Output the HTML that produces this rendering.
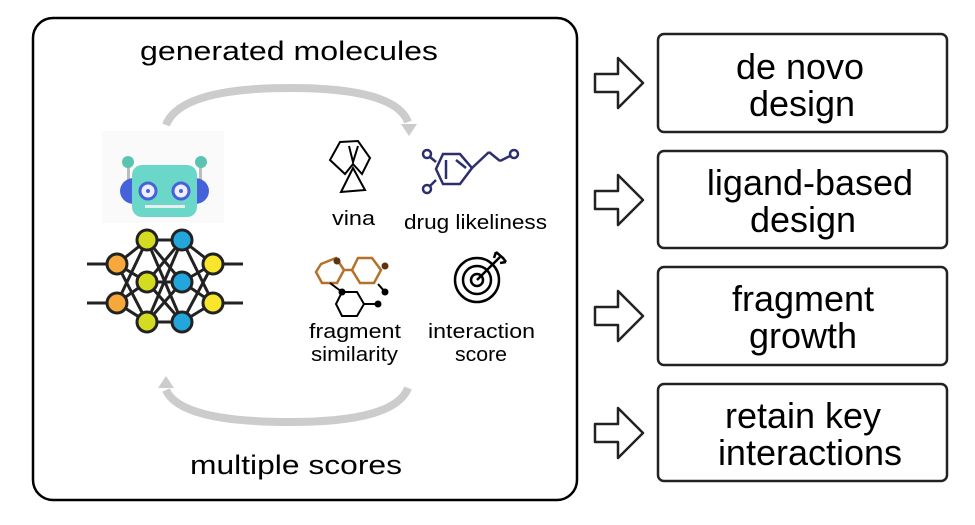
<!DOCTYPE html>
<html><head><meta charset="utf-8"><style>
html,body{margin:0;padding:0;background:#fff;}
svg{display:block;}
text{font-family:"Liberation Sans",sans-serif;fill:#000;}
</style></head><body>
<svg width="975" height="525" viewBox="0 0 975 525" xmlns="http://www.w3.org/2000/svg">
<rect x="33" y="18" width="544" height="482" rx="20" fill="#fff" stroke="#000" stroke-width="2.5"/>
<text x="140" y="60" font-size="27" textLength="298" lengthAdjust="spacingAndGlyphs">generated molecules</text>
<text x="190" y="474" font-size="27" textLength="212" lengthAdjust="spacingAndGlyphs">multiple scores</text>
<!-- gray arcs -->
<path d="M166,125 Q180,88 290,88 Q395,88 408,122" fill="none" stroke="#ccc" stroke-width="8"/>
<polygon points="401,124 417,124 409,136" fill="#ccc"/>
<path d="M408,388 Q395,422 290,422 Q180,422 166,390" fill="none" stroke="#ccc" stroke-width="8"/>
<polygon points="158,388 174,388 166,376" fill="#ccc"/>
<!-- robot -->
<rect x="102" y="131" width="122" height="92" fill="#fafafa"/>
<rect x="127" y="164" width="3" height="20" fill="#bbb"/>
<rect x="199" y="164" width="3" height="20" fill="#bbb"/>
<circle cx="128" cy="162" r="6" fill="#5bc4b0"/>
<circle cx="201" cy="162" r="6" fill="#5bc4b0"/>
<ellipse cx="134" cy="191" rx="14" ry="13" fill="#4662db"/>
<ellipse cx="195" cy="191" rx="14" ry="13" fill="#4662db"/>
<rect x="132" y="165" width="65" height="52" rx="10" fill="#6bd7c9"/>
<circle cx="148" cy="191" r="8" fill="#eef" stroke="#4662db" stroke-width="3"/>
<circle cx="181" cy="191" r="8" fill="#eef" stroke="#4662db" stroke-width="3"/>
<circle cx="148" cy="191" r="2" fill="#4662db"/><circle cx="181" cy="191" r="2" fill="#4662db"/>
<rect x="145" y="205" width="40" height="3" fill="#e8eef0"/>
<!-- neural net -->
<g stroke="#222" stroke-width="3">
<line x1="87" y1="264" x2="117" y2="264"/><line x1="87" y1="303" x2="117" y2="303"/>
<line x1="213" y1="264" x2="243" y2="264"/><line x1="213" y1="303" x2="243" y2="303"/>
<g>
<line x1="117" y1="264" x2="147" y2="240"/><line x1="117" y1="264" x2="147" y2="282"/><line x1="117" y1="264" x2="147" y2="322"/>
<line x1="117" y1="303" x2="147" y2="240"/><line x1="117" y1="303" x2="147" y2="282"/><line x1="117" y1="303" x2="147" y2="322"/>
<line x1="147" y1="240" x2="182" y2="240"/><line x1="147" y1="240" x2="182" y2="282"/><line x1="147" y1="240" x2="182" y2="322"/>
<line x1="147" y1="282" x2="182" y2="240"/><line x1="147" y1="282" x2="182" y2="282"/><line x1="147" y1="282" x2="182" y2="322"/>
<line x1="147" y1="322" x2="182" y2="240"/><line x1="147" y1="322" x2="182" y2="282"/><line x1="147" y1="322" x2="182" y2="322"/>
<line x1="182" y1="240" x2="213" y2="264"/><line x1="182" y1="240" x2="213" y2="303"/>
<line x1="182" y1="282" x2="213" y2="264"/><line x1="182" y1="282" x2="213" y2="303"/>
<line x1="182" y1="322" x2="213" y2="264"/><line x1="182" y1="322" x2="213" y2="303"/>
</g>
<circle cx="117" cy="264" r="10" fill="#f7a83a"/><circle cx="117" cy="303" r="10" fill="#f7a83a"/>
<circle cx="147" cy="240" r="10" fill="#d4dc22"/><circle cx="147" cy="282" r="10" fill="#d4dc22"/><circle cx="147" cy="322" r="10" fill="#d4dc22"/>
<circle cx="182" cy="240" r="10" fill="#22a6dc"/><circle cx="182" cy="282" r="10" fill="#22a6dc"/><circle cx="182" cy="322" r="10" fill="#22a6dc"/>
<circle cx="213" cy="264" r="10" fill="#f9e62c"/><circle cx="213" cy="303" r="10" fill="#f9e62c"/>
</g>
<!-- vina icon -->
<g fill="none" stroke="#000" stroke-width="2">
<path d="M340,142 L358,141 L370,158 L362,174 L353,164 L345,174 L330,160 Z"/>
<path d="M353,168 L365,190 L341,192 Z"/>
<path d="M349,146 L353,162 L358,146"/>
</g>
<text x="332" y="225" font-size="20" textLength="43" lengthAdjust="spacingAndGlyphs">vina</text>
<!-- drug likeness -->
<g fill="none" stroke="#2b2f6e" stroke-width="2.5">
<polygon points="443,154 460,154 472,168 460,184 443,184 436,169"/>
<line x1="446" y1="160" x2="446" y2="179"/><line x1="456" y1="160" x2="466" y2="168"/>
<line x1="472" y1="168" x2="489" y2="152"/><line x1="489" y1="152" x2="500" y2="161"/><line x1="500" y1="161" x2="510" y2="156"/>
<line x1="436" y1="162" x2="430" y2="157"/><line x1="436" y1="180" x2="430" y2="186"/>
<circle cx="427" cy="154" r="4"/><circle cx="427" cy="189" r="4"/><circle cx="514" cy="154" r="4"/>
</g>
<text x="404" y="229" font-size="20" textLength="143" lengthAdjust="spacingAndGlyphs">drug likeliness</text>
<!-- fragment -->
<g fill="none" stroke-width="2.5">
<polygon points="321,264 336,258 344,270 337,283 322,283 316,272" stroke="#b5712a"/>
<polygon points="358,258 372,258 381,270 374,283 360,283 352,270" stroke="#b5712a"/>
<line x1="344" y1="270" x2="352" y2="270" stroke="#b5712a"/>
<g stroke="#000" stroke-width="2">
<polygon points="342,292 357,292 364,304 357,316 342,316 336,304"/>
<line x1="330" y1="283" x2="342" y2="292"/><line x1="364" y1="304" x2="378" y2="304"/><line x1="378" y1="284" x2="385" y2="292"/>
</g></g>
<circle cx="342" cy="292" r="3.5"/><circle cx="378" cy="304" r="3.5"/><circle cx="385" cy="292" r="3.5"/>
<circle cx="337" cy="261" r="3.5" fill="#5a3510"/><circle cx="385" cy="266" r="3.5" fill="#5a3510"/>
<text x="309" y="338" font-size="20" textLength="92" lengthAdjust="spacingAndGlyphs">fragment</text>
<text x="311" y="361" font-size="20" textLength="87" lengthAdjust="spacingAndGlyphs">similarity</text>
<!-- target -->
<g fill="none" stroke="#000" stroke-width="2.5">
<circle cx="477" cy="280" r="22"/><circle cx="477" cy="280" r="14"/><circle cx="477" cy="280" r="6"/>
<line x1="477" y1="280" x2="500" y2="257"/>
<path d="M494,258 L496,252 M500,263 L506,262 M496,252 L503,258 L506,262"/>
</g>
<text x="428" y="338" font-size="20" textLength="107" lengthAdjust="spacingAndGlyphs">interaction</text>
<text x="455" y="361" font-size="20" textLength="52" lengthAdjust="spacingAndGlyphs">score</text>
<!-- right arrows and boxes -->
<g fill="#fff" stroke="#222" stroke-width="2.5" stroke-linejoin="round">
<path d="M595,74 L618,74 L618,58 L643,83 L618,108 L618,92 L595,92 Z"/>
<path d="M595,191 L618,191 L618,175 L643,200 L618,225 L618,209 L595,209 Z"/>
<path d="M595,307 L618,307 L618,291 L643,316 L618,341 L618,325 L595,325 Z"/>
<path d="M595,424 L618,424 L618,408 L643,433 L618,458 L618,442 L595,442 Z"/>
<rect x="658" y="34" width="289" height="98" rx="6"/>
<rect x="658" y="151" width="289" height="97" rx="6"/>
<rect x="658" y="267" width="289" height="98" rx="6"/>
<rect x="658" y="384" width="289" height="97" rx="6"/>
</g>
<g font-size="36" text-anchor="middle">
<text x="800" y="79">de novo</text><text x="802" y="116">design</text>
<text x="810" y="195">ligand-based</text><text x="803" y="232">design</text>
<text x="803" y="311">fragment</text><text x="803" y="348">growth</text>
<text x="803" y="428">retain key</text><text x="810" y="465">interactions</text>
</g>
</svg>
</body></html>
